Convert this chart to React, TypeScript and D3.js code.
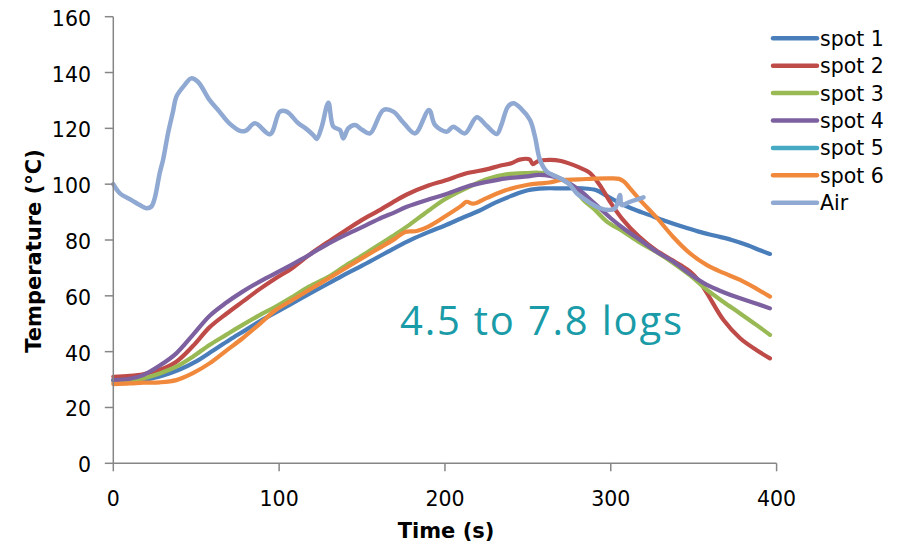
import React from "react";
import * as d3 from "d3";

type P = [number, number];

const xTicks = [0, 100, 200, 300, 400];
const yTicks = [0, 20, 40, 60, 80, 100, 120, 140, 160];

const seriesNames = ["spot 1", "spot 2", "spot 3", "spot 4", "spot 5", "spot 6", "Air"];
const seriesColors = ["#4a7ebb", "#be4b48", "#98b954", "#7d60a0", "#46aac5", "#f0893c", "#8fa9d2"];

const spot1: P[] = [
  [0, 29.8], [10, 29.9], [20, 30.1], [30, 31.5], [40, 33.6], [50, 36.5], [60, 40.3], [70, 44.2],
  [80, 47.8], [90, 51.5], [100, 54.7], [110, 58], [120, 61.3], [130, 64.5], [140, 67.8], [150, 70.8],
  [160, 74], [170, 77.2], [180, 80.2], [190, 82.8], [200, 85.2], [210, 87.8], [220, 90.3], [230, 93.3],
  [240, 95.8], [250, 97.8], [260, 98.5], [270, 98.5], [283, 98.5], [291, 97.9], [297, 96], [304, 93.7],
  [313, 91.2], [323, 89], [333, 86.8], [343, 84.8], [353, 83], [363, 81.5], [373, 80], [383, 78],
  [390, 76.3], [396, 75],
];

const spot2: P[] = [
  [0, 31], [10, 31.3], [18, 31.9], [28, 33.5], [38, 36.4], [48, 42], [58, 48.7], [68, 53.5],
  [78, 57.9], [88, 62.3], [98, 66.3], [108, 70], [118, 74.6], [130, 79.5], [140, 83.4], [150, 87.2],
  [160, 90.5], [170, 94], [177, 96.3], [190, 99.5], [200, 101.3], [213, 103.9], [225, 105.3], [233, 106.6],
  [240, 107.5], [245, 108.8], [251, 108.9], [253, 107.2], [256, 108.2], [263, 108.7], [270, 108.3],
  [281, 106], [287, 104.2], [293, 100], [300, 93.3], [307, 87.5], [317, 81.2], [327, 76.4], [337, 72.8],
  [342, 71], [348, 68.6], [353, 65.5], [358, 61], [368, 51.3], [378, 44.8], [388, 40.5], [396, 37.6],
];

const spot3: P[] = [
  [0, 29.2], [10, 29.5], [18, 30.4], [28, 32.2], [38, 34.6], [48, 38.2], [58, 42.4], [68, 46],
  [78, 49.6], [88, 53], [98, 56.1], [108, 59.6], [118, 63.3], [130, 66.9], [140, 70.8], [150, 74.4],
  [160, 78.2], [170, 82], [177, 84.8], [190, 90.5], [200, 94.6], [213, 98.6], [225, 101.8], [237, 103.5],
  [250, 104], [257, 104.1], [265, 103.3], [271, 101.5], [277, 99.1], [283.5, 94.3], [290.5, 90.8],
  [297.6, 86.6], [307.6, 83], [317.7, 79], [327.7, 75.6], [337.8, 71.7], [347.8, 67.3], [358, 62.1],
  [368, 57.8], [378, 53.7], [388, 49.5], [396, 46],
];

const spot4: P[] = [
  [0, 29.8], [10, 30.3], [18, 31.6], [28, 35], [38, 39.4], [48, 46], [58, 52.8], [68, 57.5],
  [78, 61.5], [88, 65], [98, 68.1], [108, 71.3], [118, 74.6], [130, 78.8], [140, 81.8], [150, 84.6],
  [160, 87.5], [170, 90], [177, 91.9], [190, 94.5], [200, 96.3], [213, 99.1], [225, 100.8], [237, 102.1],
  [250, 102.8], [257, 103.3], [269, 102.1], [281, 97.9], [290, 93.2], [300, 87.8], [307.6, 84.2],
  [317.7, 80], [327.7, 75.8], [337.8, 72.2], [347.8, 67.8], [358, 63.9], [368, 61.3], [378, 59.1],
  [388, 57.2], [396, 55.5],
];

const spot5: P[] = [];

const spot6: P[] = [
  [0, 28.4], [10, 28.6], [18, 28.9], [28, 29], [38, 29.8], [48, 32.3], [58, 35.8], [68, 40.3],
  [78, 44.8], [88, 49.8], [98, 54.9], [108, 58.5], [118, 62.1], [130, 66.3], [140, 69.9], [150, 73.5],
  [160, 77], [170, 80.5], [176, 82.9], [183, 83.2], [190, 84.8], [200, 88.4], [210, 92.3], [213, 93.7],
  [217, 93], [225, 95], [237, 97.9], [250, 99.8], [257, 100.3], [263, 100.6], [270, 101.5], [281, 101.7],
  [290, 102], [300, 102.1], [305, 101.9], [308, 100.9], [311.6, 98.5], [317.7, 94.3], [327.7, 88],
  [337.8, 81], [347.8, 75.2], [358, 71], [368, 68.2], [378, 65.7], [388, 62.5], [396, 59.7],
];

const air: P[] = [
  [0, 100], [4, 96.7], [11, 94.3], [16, 92.5], [20, 91.4], [23, 92], [25, 95], [28, 104], [30, 108.7],
  [33, 118.2], [36, 126], [38, 131.3], [43, 135.5], [47, 137.9], [51, 136.7], [58, 130.2], [64, 126],
  [70, 121.8], [77, 119], [80, 119.2], [85.5, 121.8], [94.5, 117.9], [100.5, 126], [104.6, 126],
  [111.6, 121.8], [116, 120], [120.6, 117.6], [122.7, 116.2], [125.7, 120.6], [129.7, 129.2],
  [132.7, 120.6], [136.7, 119.4], [138.7, 116.4], [141.7, 120], [145.8, 121.2], [150, 119.5],
  [154.8, 118.2], [162.9, 126.6], [168.9, 126], [175, 122], [182, 118.2], [190.4, 126.6], [194, 121.2],
  [201, 118.8], [205, 120.6], [212, 118.2], [219.2, 124], [225, 121], [231.3, 118], [234, 121.2],
  [238, 127.8], [241.3, 129], [246, 127], [251.3, 123], [254.3, 117], [257.3, 108.7], [261.4, 104.5],
  [265, 103.3], [271.4, 101.5], [275, 100], [279.5, 96.7], [283.5, 94.9], [291.5, 91.9], [297.6, 90.8],
  [302.6, 91.4], [305.6, 96.1], [306.6, 92.5], [311.6, 93.7], [319.7, 95.3],
];

const seriesData: P[][] = [spot1, spot2, spot3, spot4, spot5, spot6, air];

const annotation = "4.5 to 7.8 logs";
const xTitle = "Time (s)";
const yTitle = "Temperature (°C)";

export default function App() {
  const W = 908;
  const H = 546;
  const x = d3.scaleLinear().domain([0, 400]).range([113.3, 776.6]);
  const y = d3.scaleLinear().domain([0, 160]).range([463.3, 16.7]);
  const axisColor = "#868686";
  const font = "'DejaVu Sans', Verdana, sans-serif";

  const line = d3
    .line<P>()
    .x((d) => x(d[0]))
    .y((d) => y(d[1]))
    .curve(d3.curveCatmullRom.alpha(0.5));

  const legendX1 = 773;
  const legendX2 = 817;
  const legendY0 = 38.3;
  const legendStep = 27.4;

  return (
    <svg
      width={W}
      height={H}
      style={{ position: "absolute", left: 0, top: 0, background: "#fff" }}
      fontFamily={font}
    >
      <rect x={0} y={0} width={W} height={H} fill="#fff" />
      {seriesData.map((d, i) =>
        d.length ? (
          <path
            key={seriesNames[i]}
            d={line(d) || ""}
            fill="none"
            stroke={seriesColors[i]}
            strokeWidth={i === 6 ? 4.5 : 4.2}
            strokeLinejoin="round"
            strokeLinecap="round"
          />
        ) : null
      )}
      <line x1={x(0)} x2={x(0)} y1={y(0)} y2={y(160)} stroke={axisColor} strokeWidth={1.5} />
      {yTicks.map((t) => (
        <g key={"y" + t}>
          <line x1={x(0) - 8.5} x2={x(0)} y1={y(t)} y2={y(t)} stroke={axisColor} strokeWidth={1.5} />
          <text x={91} y={y(t) + 9} fontSize={20.5} textAnchor="end" fill="#000">
            {t}
          </text>
        </g>
      ))}
      <line x1={x(0)} x2={x(400)} y1={y(0)} y2={y(0)} stroke={axisColor} strokeWidth={1.5} />
      {xTicks.map((t) => (
        <g key={"x" + t}>
          <line x1={x(t)} x2={x(t)} y1={y(0)} y2={y(0) + 8} stroke={axisColor} strokeWidth={1.5} />
          <text x={x(t)} y={505.5} fontSize={20.5} textAnchor="middle" fill="#000">
            {t}
          </text>
        </g>
      ))}
      <text x={446} y={538} fontSize={21} fontWeight="bold" textAnchor="middle" fill="#000">
        {xTitle}
      </text>
      <text
        transform={`translate(41,251) rotate(-90)`}
        fontSize={21}
        fontWeight="bold"
        textAnchor="middle"
        fill="#000"
      >
        {yTitle}
      </text>
      <text
        x={400}
        y={335}
        fontSize={40}
        fill="#1a9ba8"
        fontFamily="'Open Sans', 'Noto Sans', sans-serif"
        textLength={282}
        lengthAdjust="spacing"
      >
        {annotation}
      </text>
      {seriesNames.map((n, i) => {
        const ly = legendY0 + i * legendStep;
        return (
          <g key={"lg" + n}>
            <line
              x1={legendX1}
              x2={legendX2}
              y1={ly}
              y2={ly}
              stroke={seriesColors[i]}
              strokeWidth={4.5}
              strokeLinecap="round"
            />
            <text x={820} y={ly + 7.5} fontSize={20.5} fill="#000">
              {n}
            </text>
          </g>
        );
      })}
    </svg>
  );
}
